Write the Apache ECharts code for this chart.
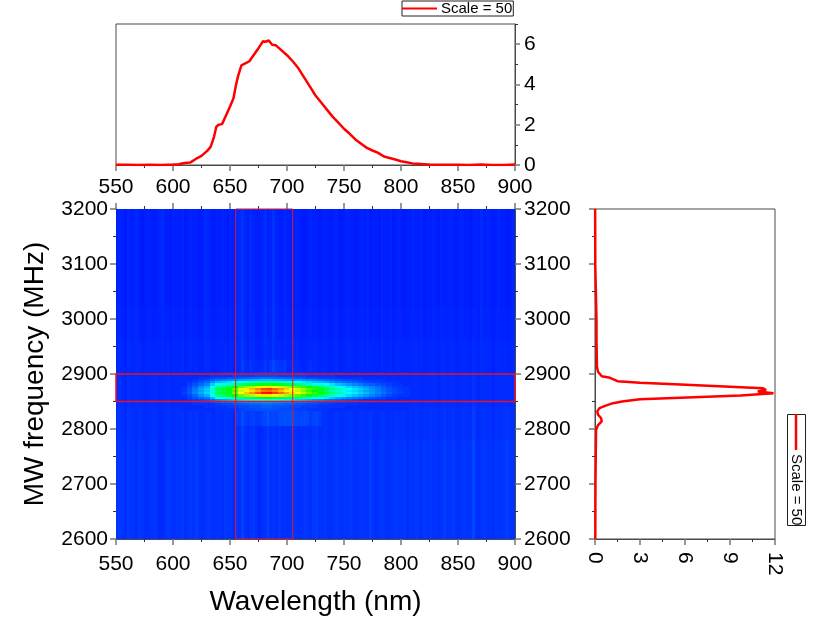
<!DOCTYPE html>
<html><head><meta charset="utf-8">
<style>html,body{margin:0;padding:0;background:#fff}#c{width:830px;height:635px}</style>
<script src="https://cdn.jsdelivr.net/npm/echarts@6/dist/echarts.min.js"></script>
</head><body><div id="c"></div>
<script>
const seriesName = 'Scale = 50';
// Top panel: spectrum
const specW = [550,560,570,580,590,600,605,610,615,620,625,630,633,636,638,640,643,646,650,653,655,657,660,663,667,670,675,679,681,684,687,690,695,700,705,710,715,720,725,730,735,740,745,750,755,760,765,770,775,780,785,790,795,800,805,810,815,820,825,830,840,850,860,870,880,890,900];
const specV = [0.01,0.01,0,0.01,0,0.02,0.04,0.1,0.12,0.3,0.45,0.7,0.9,1.4,1.9,2.0,2.03,2.4,2.9,3.3,3.9,4.4,4.95,5.03,5.15,5.4,5.8,6.15,6.12,6.18,5.97,5.95,5.7,5.45,5.15,4.8,4.35,3.9,3.45,3.1,2.75,2.4,2.1,1.8,1.55,1.27,1.05,0.85,0.72,0.6,0.42,0.35,0.27,0.19,0.14,0.08,0.06,0.04,0.02,0.01,0.01,0.01,0,0.02,0,0,0.02];
// Right panel: frequency profile
const freqF = [2600,2700,2750,2798,2807,2814,2820,2826,2832,2838,2842,2847,2850,2854,2857,2861,2865,2868,2871,2874,2877,2881,2884,2887,2893,2896,2904,2913,2962,2998,3095,3200];
const freqV = [0.02,0.03,0.05,0.07,0.2,0.45,0.4,0.2,0.15,0.3,0.67,1.2,1.8,3,5.7,9.7,11.9,10.85,11.4,11.2,9,5.7,3,1.5,1.0,0.45,0.2,0.13,0.1,0.1,0.02,0.01];
// Heat map: background streaks, 2.5 nm wide, from 550 nm
const stripesUpper = [3,3.5,3,2.5,3.5,3,3,4,3,2.5,3,3.5,3,2.5,3,3.5,4,3,3,2.5,3.5,3,3,3.5,2.5,3,3.5,3,3,2.5,3,4,3.5,3,2.5,3,3,3.5,3,2.5,3.5,3,3.5,4,5,3.5,3,4,3.5,3,3,3.5,4.5,3,3.5,5,3.5,3,3,4,3,3,3,3.5,3,2.5,2.5,3,3.5,3,3,2.5,3,3.5,3,2.5,3,3.5,2.5,2.5,3,3.5,3,3,2.5,3,3.5,3,3.5,2.5,3,3,2.5,3.5,3,3,3.5,2.5,3,3.5,3,2.5,3,3,3.5,3,3,3.5,2.5,3,3,3.5,3,2.5,3.5,3,3,3.5,3,2.5,3,3.5,3,3,2.5,3,3.5,3,4,3,3.5,3,2.5,3,3.5,3,3,2.5,3,3.5];
const stripesLower = [5,5.5,5,4.5,5.5,5,5,4.5,5.5,5,4.5,4.5,5,5.5,5,4,4,5,5.5,5,4.5,5,5,5.5,4.5,5,5.5,5,6,5,4.5,5,5.5,5,4.5,5,5,4.5,5.5,5,5,4.5,5,4.5,6.5,5,4,5,5.5,4.5,3.5,4.5,5,6.5,4.5,5,4.5,5.5,4.5,5,4.5,5,5.5,5,4.5,5,5.5,5,4.5,5.5,6,5,5,5.5,5,4.5,5,5.5,5,4.5,5,5,5.5,5,4.5,5,5.5,5,5,6,5,4.5,5,5.5,5,4.5,5,5,5.5,5,5,5.5,4.5,5,5,5.5,5,4.5,5.5,5,5.5,5,5,4.5,5,6,5,5,5.5,5,4.5,5,5.5,5,5,7,5,4.5,5,5.5,5,5,4.5,5.5,5,5,5.5,6,5,5];
// Background bands: from-frequency, to-frequency, share of the upper streaks
const bandFrom = [2600,2780,2840,2900,2960,3020];
const bandTo = [2780,2840,2900,2960,3020,3200];
const bandUpperShare = [0,0.2,0.45,0.65,0.85,1];
// Heat map: lift near the bright band, 5 nm wide, from 640 nm
const glowBelow = [0,0,0,1,1,1,1,2,2,2,2,3,3,2,2,2,1,1,0,0,0];
const glowAbove = [0,0,0,0,1,1,1,1,1,2,2,2,1,1,1,1,1,0,0,0,0];
const blobWaves = [610,615,620,625,630,635,640,645,650,655,660,665,670,675,680,685,690,695,700,705,710,715,720,725,730,735,740,745,750,755,760,765,770,775,780,785,790,795,800,805];
const blobFreqs = [2900,2896,2892,2888,2884,2880,2876,2872,2868,2864,2860,2856,2852,2848,2844,2840,2836];
const blob2900 = [4,4,4,4,4,4,4,5,5,5,5,5,5,6,6,6,6,5,5,5,5,5,4,4,4,4,4,4,4,4,4,4,4,4,4,4,4,4,4,4];
const blob2896 = [4,4,4,4,4,5,5,5,5,6,6,6,6,7,7,7,7,6,6,6,6,6,5,5,5,5,5,4,4,4,4,4,4,4,4,4,4,4,4,4];
const blob2892 = [4,4,4,5,5,6,7,7,8,8,9,9,10,10,11,11,10,10,9,9,8,8,7,7,6,6,6,5,5,5,5,5,4,4,4,4,4,4,4,4];
const blob2888 = [4,4,5,6,7,9,11,12,13,14,15,16,17,18,19,19,18,17,16,15,15,14,13,12,11,10,9,8,7,7,6,6,5,5,5,5,4,4,4,4];
const blob2884 = [4,5,6,8,10,14,18,20,22,24,26,28,30,32,33,33,32,30,29,27,25,23,21,19,18,16,14,12,11,10,9,8,7,6,6,5,5,5,4,4];
const blob2880 = [4,6,8,10,13,20,27,30,32,35,40,43,45,48,51,52,50,47,45,42,39,36,33,30,28,25,22,19,17,15,13,12,10,9,8,7,6,5,5,4];
const blob2876 = [5,7,10,14,17,26,36,40,44,50,60,64,67,72,76,77,74,70,66,62,58,54,48,44,41,36,32,27,24,21,19,17,15,13,11,9,7,6,5,5];
const blob2872 = [5,8,12,16,20,29,42,46,50,58,72,77,82,87,93,94,90,86,80,75,71,66,58,52,49,43,37,32,29,25,22,20,17,14,12,10,8,7,6,5];
const blob2868 = [5,8,12,15,19,27,39,43,47,55,69,73,78,83,88,89,86,81,76,72,68,62,55,50,46,40,34,30,27,23,21,19,16,14,12,10,8,7,6,5];
const blob2864 = [6,9,13,17,21,30,43,47,51,60,75,81,86,92,98,99,95,90,84,79,74,68,60,54,50,44,38,33,30,26,23,21,18,15,13,11,9,7,6,5];
const blob2860 = [5,7,10,14,17,26,37,41,44,50,60,64,67,72,77,77,74,70,66,62,58,54,48,44,41,36,32,27,24,21,19,17,15,13,11,9,7,6,5,5];
const blob2856 = [4,6,8,10,12,18,25,28,31,34,38,40,42,45,47,48,46,44,41,39,37,34,31,28,26,23,20,17,15,13,12,11,9,8,7,6,5,5,4,4];
const blob2852 = [4,5,6,7,8,11,14,16,18,20,22,23,24,25,26,27,26,24,23,22,20,19,17,15,14,12,11,10,9,8,7,6,5,5,5,5,4,4,4,4];
const blob2848 = [4,4,5,5,6,7,9,10,11,12,13,14,15,16,16,16,15,14,14,13,12,11,10,9,8,8,7,6,6,5,5,5,5,5,4,4,4,4,4,4];
const blob2844 = [4,4,5,5,5,5,6,7,7,8,9,9,10,10,11,11,10,10,9,9,8,8,7,7,6,6,5,5,5,5,5,4,4,4,4,4,4,4,4,4];
const blob2840 = [4,4,4,4,5,5,5,5,6,6,7,7,8,8,9,9,8,8,8,7,7,6,6,6,5,5,5,5,5,4,4,4,4,4,4,4,4,4,4,4];
const blob2836 = [4,4,4,4,4,4,5,5,5,5,6,7,7,8,8,8,8,7,7,7,6,6,5,5,5,5,4,4,4,4,4,4,4,4,4,4,4,4,4,4];
const blobRows = [blob2900,blob2896,blob2892,blob2888,blob2884,blob2880,blob2876,blob2872,blob2868,blob2864,blob2860,blob2856,blob2852,blob2848,blob2844,blob2840,blob2836];
// Red selection rectangles
const boxVertical = [[655,2600],[655,3200],[705,3200],[705,2600],[655,2600]];
const boxHorizontal = [[550,2850],[900,2850],[900,2900],[550,2900],[550,2850]];

// cells: [x0, x1, y0, y1, value]
const cells = [];
bandFrom.forEach((f,b)=>{
  const s = bandUpperShare[b];
  stripesLower.forEach((v,i)=>cells.push([550+i*2.5,552.5+i*2.5,f,bandTo[b],v*(1-s)+stripesUpper[i]*s]));
});
stripesLower.forEach((v,i)=>{
  const g = glowBelow[Math.floor((550+i*2.5-640)/5)];
  if (g) cells.push([550+i*2.5,552.5+i*2.5,2806,2834,v+g]);
});
stripesUpper.forEach((v,i)=>{
  const g = glowAbove[Math.floor((550+i*2.5-640)/5)];
  if (g) cells.push([550+i*2.5,552.5+i*2.5,2902,2924,v+g]);
});
blobRows.forEach((row,r)=>row.forEach((v,c)=>{
  cells.push([blobWaves[c]-2.5,blobWaves[c]+2.5,blobFreqs[r]-2,blobFreqs[r]+2,v]);
}));

const FONT = '"Liberation Sans", Arial, sans-serif';
const AX = '#4a4a4a';
const line = {show:true,lineStyle:{color:AX,width:1}};
const tick = {show:true,length:6,inside:false,lineStyle:{color:'#777',width:1.5}};
const minor = {show:true,splitNumber:2,length:3,lineStyle:{color:'#333',width:1}};
const label = (o)=>Object.assign({show:true,color:'#000',fontFamily:FONT,fontSize:21,formatter:(v)=>String(v)},o);
const nosplit = {show:false};
const wave = (o)=>Object.assign({type:'value',min:550,max:900,interval:50,axisLine:line,axisTick:tick,minorTick:minor,splitLine:nosplit,minorSplitLine:nosplit},o);
const mhz = (o)=>Object.assign({type:'value',min:2600,max:3200,interval:100,axisLine:line,axisTick:tick,minorTick:minor,splitLine:nosplit,minorSplitLine:nosplit},o);
const nameStyle = {color:'#000',fontFamily:FONT,fontSize:28};

const chart = echarts.init(document.getElementById('c'),null,{renderer:'canvas'});
chart.setOption({
  animation:false,
  backgroundColor:'#fff',
  textStyle:{fontFamily:FONT},
  legend:{
    left:402,top:1,padding:[0,1,0,0],itemWidth:35,itemHeight:17,itemGap:0,
    data:[{name:seriesName,icon:'path://M0 7 H35 V9 H0 Z'}],
    selectedMode:false,borderColor:'#222',borderWidth:1,
    textStyle:{fontFamily:FONT,fontSize:15,color:'#000',padding:[0,0,0,-1]}
  },
  visualMap:{show:false,seriesIndex:2,dimension:4,min:0,max:100,
    inRange:{color:['#0000ff','#00ffff','#00ff00','#ffff00','#ff0000']}},
  grid:[
    {left:116,width:399,top:24,height:141,show:true,borderColor:AX,borderWidth:1,backgroundColor:'transparent'},
    {left:116,width:399,top:209,height:330},
    {left:595,width:180,top:209,height:330,show:true,borderColor:AX,borderWidth:1,backgroundColor:'transparent'}
  ],
  xAxis:[
    wave({gridIndex:0,position:'bottom',axisLabel:label({margin:12})}),
    wave({gridIndex:1,position:'bottom',name:'Wavelength (nm)',nameLocation:'middle',nameGap:49,nameTextStyle:nameStyle,axisLabel:label({margin:15})}),
    wave({gridIndex:1,position:'top',axisLabel:{show:false}}),
    {type:'value',gridIndex:2,position:'bottom',min:0,max:12,interval:3,axisLine:line,axisTick:tick,minorTick:minor,splitLine:nosplit,minorSplitLine:nosplit,axisLabel:label({rotate:-90,margin:13})}
  ],
  yAxis:[
    {type:'value',gridIndex:0,position:'right',min:0,max:7,interval:2,axisLine:line,
      axisTick:{show:true,length:5,customValues:[0,2,4,6],lineStyle:{color:'#777',width:1.5}},minorTick:{show:false},splitLine:nosplit,
      axisLabel:label({margin:9,showMaxLabel:false,padding:[2,0,0,0]})},
    {type:'value',gridIndex:0,position:'right',min:0,max:7,interval:2,axisLine:{show:false},
      axisTick:{show:true,length:3,customValues:[1,3,5,7],lineStyle:{color:'#333',width:1}},minorTick:{show:false},splitLine:nosplit,axisLabel:{show:false}},
    mhz({gridIndex:1,position:'left',name:'MW frequency (MHz)',nameLocation:'middle',nameGap:67,nameTextStyle:nameStyle,axisLabel:label({margin:8,padding:[2,0,0,0]})}),
    mhz({gridIndex:1,position:'right',axisLabel:label({margin:9,padding:[2,0,0,0]})}),
    mhz({gridIndex:2,position:'left',axisLabel:{show:false}})
  ],
  series:[
    {name:seriesName,type:'line',xAxisIndex:0,yAxisIndex:0,showSymbol:false,smooth:false,lineStyle:{color:'#ff0000',width:2.5},itemStyle:{color:'#ff0000'},
      data:specW.map((w,i)=>[w,specV[i]]),z:5},
    {name:seriesName,type:'line',xAxisIndex:3,yAxisIndex:4,showSymbol:false,smooth:false,lineStyle:{color:'#ff0000',width:2.5},itemStyle:{color:'#ff0000'},
      data:freqF.map((f,i)=>[freqV[i],f]),z:5},
    {name:'Map',type:'custom',xAxisIndex:1,yAxisIndex:2,coordinateSystem:'cartesian2d',clip:true,silent:true,z:1,
      encode:{x:[0,1],y:[2,3]},
      renderItem:(p,api)=>{
        const a = api.coord([api.value(0),api.value(3)]);
        const b = api.coord([api.value(1),api.value(2)]);
        const x0=Math.floor(a[0]),y0=Math.floor(a[1]),x1=Math.ceil(b[0]),y1=Math.ceil(b[1]);
        return {type:'rect',shape:{x:x0,y:y0,width:x1-x0,height:y1-y0},style:{fill:api.visual('color')}};
      },
      data:cells},
    {name:'Selection vertical',type:'line',xAxisIndex:1,yAxisIndex:2,showSymbol:false,clip:false,z:6,silent:true,lineStyle:{color:'#e0182c',width:1},data:boxVertical},
    {name:'Selection horizontal',type:'line',xAxisIndex:1,yAxisIndex:2,showSymbol:false,clip:false,z:6,silent:true,lineStyle:{color:'#ee1020',width:1.5},data:boxHorizontal}
  ],
  graphic:[
    {type:'rect',silent:true,z:10,shape:{x:787.5,y:414.5,width:18,height:111},style:{fill:'#fff',stroke:'#222',lineWidth:1}},
    {type:'line',silent:true,z:11,shape:{x1:796,y1:414,x2:796,y2:450},style:{stroke:'#ff0000',lineWidth:2.5}},
    {type:'text',silent:true,z:11,x:796,y:454,rotation:-Math.PI/2,style:{text:seriesName,fontFamily:FONT,fontSize:15,fill:'#000',align:'left',verticalAlign:'middle'}}
  ]
});
</script></body></html>
